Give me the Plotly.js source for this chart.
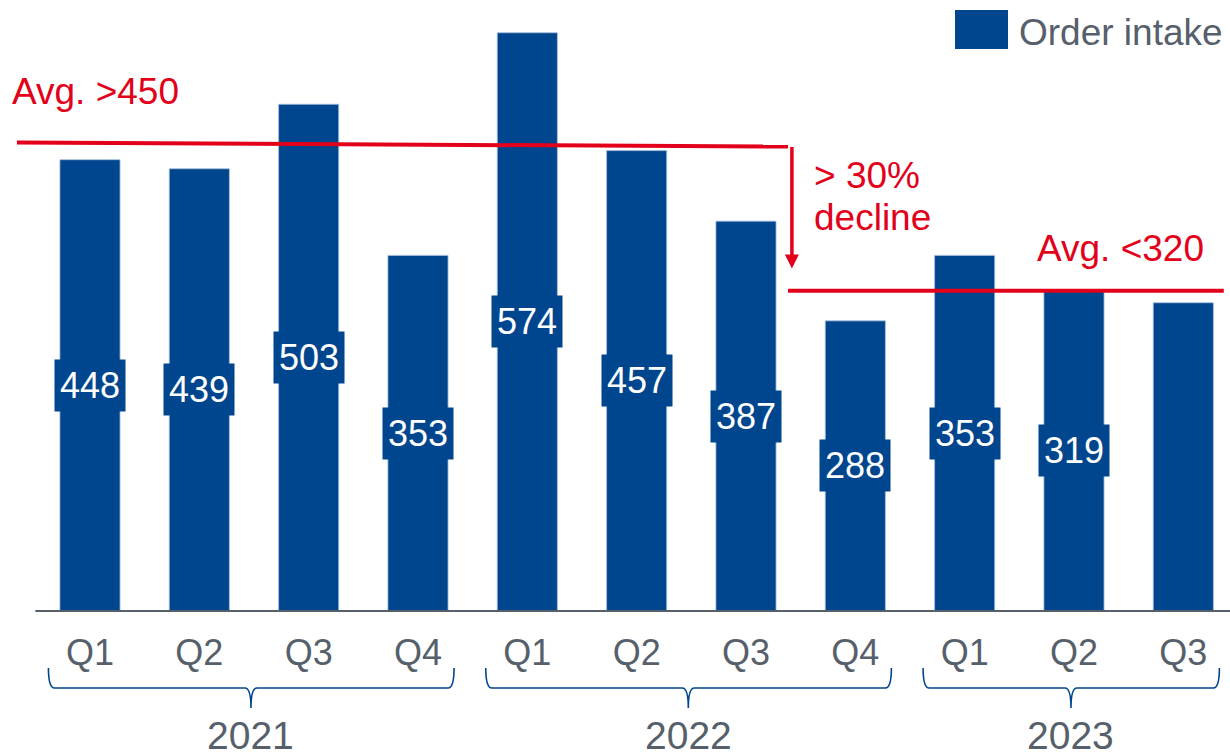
<!DOCTYPE html>
<html>
<head>
<meta charset="utf-8">
<script src="https://cdn.plot.ly/plotly-3.0.1.min.js"></script>
<style>
  html, body { margin: 0; padding: 0; background: #ffffff; }
  #chart { width: 1230px; height: 754px; }
</style>
</head>
<body>
<div id="chart"></div>
<script>
// ---- data ----
const quarters = ['Q1', 'Q2', 'Q3', 'Q4', 'Q1', 'Q2', 'Q3', 'Q4', 'Q1', 'Q2', 'Q3'];
const years = ['2021', '2021', '2021', '2021', '2022', '2022', '2022', '2022', '2023', '2023', '2023'];
const orderIntake = [448, 439, 503, 353, 574, 457, 387, 288, 353, 319, 306];
const valueShown = [true, true, true, true, true, true, true, true, true, true, false];
const seriesName = 'Order intake';
const avgHighLabel = 'Avg. >450';
const avgHighLine = [465, 461];
const avgLowLabel = 'Avg. <320';
const avgLowLine = [318, 318];
const declineLabel = ['> 30%', 'decline'];

// ---- style ----
const BLUE = '#00468e';
const RED = '#e2001a';
const GRAY = '#56606b';
const FONT = 'Liberation Sans, Arial, sans-serif';
const W = 1230, H = 754, MB = 143;
const PH = H - MB;            // plot height
const X0 = -0.823, X1 = 10.427;
const YMAX = 606.5;

const idx = quarters.map((_, i) => i);
const px = x => (x - X0) / (X1 - X0);          // data x -> paper x
const py = pix => (PH - pix) / PH;              // pixel y -> paper y

const shapes = [];
const annotations = [];

// baseline
shapes.push({type: 'line', xref: 'paper', yref: 'paper', x0: px(-0.5), x1: 1, y0: 0, y1: 0,
  line: {color: GRAY, width: 2.2}});

// value labels
orderIntake.forEach((v, i) => {
  if (!valueShown[i]) return;
  annotations.push({x: i, y: v / 2, xref: 'x', yref: 'y', text: String(v), showarrow: false,
    font: {family: FONT, size: 36, color: '#ffffff'}, bgcolor: BLUE, borderpad: 5});
});

// average lines
const lineHighX = [-0.668, 6.385];
const lineLowX = [6.385, 10.37];
shapes.push({type: 'line', xref: 'x', yref: 'y', x0: lineHighX[0], x1: lineHighX[1],
  y0: avgHighLine[0], y1: avgHighLine[1], line: {color: RED, width: 4}});
shapes.push({type: 'line', xref: 'x', yref: 'y', x0: lineLowX[0], x1: lineLowX[1],
  y0: avgLowLine[0], y1: avgLowLine[1], line: {color: RED, width: 4}});

// decline arrow
annotations.push({x: 6.42, y: 340, ax: 6.42, ay: avgHighLine[1] + 1, xref: 'x', yref: 'y',
  axref: 'x', ayref: 'y', text: '', showarrow: true, arrowhead: 2, arrowsize: 0.8,
  arrowwidth: 3.5, arrowcolor: RED, standoff: 0});

// red texts
const redFont = {family: FONT, size: 37, color: RED};
annotations.push({xref: 'paper', yref: 'paper', x: 10 / W, y: py(91), xanchor: 'left', yanchor: 'middle',
  text: avgHighLabel, showarrow: false, font: redFont});
annotations.push({xref: 'paper', yref: 'paper', x: 812 / W, y: py(176), xanchor: 'left', yanchor: 'middle',
  text: declineLabel[0], showarrow: false, font: redFont});
annotations.push({xref: 'paper', yref: 'paper', x: 812 / W, y: py(218), xanchor: 'left', yanchor: 'middle',
  text: declineLabel[1], showarrow: false, font: redFont});
annotations.push({xref: 'paper', yref: 'paper', x: 1035 / W, y: py(249), xanchor: 'left', yanchor: 'middle',
  text: avgLowLabel, showarrow: false, font: redFont});

// legend (custom)
shapes.push({type: 'rect', xref: 'paper', yref: 'paper', x0: 955 / W, x1: 1008 / W, y0: py(49), y1: py(10),
  fillcolor: BLUE, line: {width: 0}});
annotations.push({xref: 'paper', yref: 'paper', x: 1017 / W, y: py(33), xanchor: 'left', yanchor: 'middle',
  text: seriesName, showarrow: false, font: {family: FONT, size: 37, color: GRAY}});

// year braces and labels
const yearList = [...new Set(years)];
const yTop = py(668), yMid = py(688), yTip = py(708);
yearList.forEach(yr => {
  const members = idx.filter(i => years[i] === yr);
  const i0 = members[0], i1 = members[members.length - 1];
  const L = px(i0 - 0.38), R = px(i1 + 0.33), C = px((i0 + i1) / 2) - 3 / W;
  const d = 6 / W;
  const path = `M${L},${yTop} Q${L},${yMid} ${L + d},${yMid} L${C - d},${yMid} Q${C},${yMid} ${C},${yTip} ` +
               `Q${C},${yMid} ${C + d},${yMid} L${R - d},${yMid} Q${R},${yMid} ${R},${yTop}`;
  shapes.push({type: 'path', xref: 'paper', yref: 'paper', path: path,
    line: {color: BLUE, width: 1.6}, fillcolor: 'rgba(0,0,0,0)'});
  annotations.push({xref: 'paper', yref: 'paper', x: C, y: py(735), xanchor: 'center', yanchor: 'middle',
    text: yr, showarrow: false, font: {family: FONT, size: 39, color: GRAY}});
});

const trace = {
  type: 'bar', x: idx, y: orderIntake, name: seriesName, width: 0.55,
  marker: {color: BLUE, line: {color: '#a9c0dd', width: 0.8}},
  hoverinfo: 'skip', showlegend: false
};

const layout = {
  width: W, height: H,
  margin: {l: 0, r: 0, t: 0, b: MB, pad: 0},
  paper_bgcolor: '#ffffff', plot_bgcolor: '#ffffff',
  showlegend: false,
  xaxis: {range: [X0, X1], tickmode: 'array', tickvals: idx, ticktext: quarters,
    tickfont: {family: FONT, size: 36, color: GRAY}, showgrid: false, zeroline: false,
    showline: false, ticks: 'outside', ticklen: 10, tickcolor: 'rgba(0,0,0,0)', fixedrange: true},
  yaxis: {range: [0, YMAX], visible: false, showgrid: false, zeroline: false, fixedrange: true},
  shapes: shapes,
  annotations: annotations,
  font: {family: FONT}
};

Plotly.newPlot('chart', [trace], layout, {displayModeBar: false, staticPlot: true});
</script>
</body>
</html>
